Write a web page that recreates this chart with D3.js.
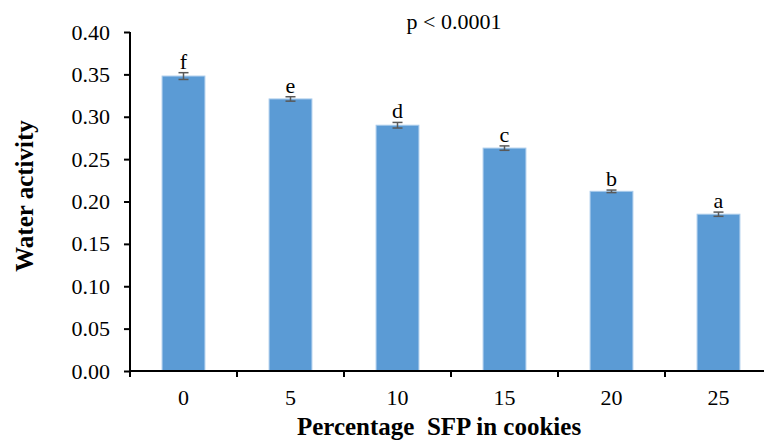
<!DOCTYPE html>
<html><head><meta charset="utf-8">
<script src="https://cdn.jsdelivr.net/npm/d3@7"></script>
<style>body{margin:0;background:#fff}svg{display:block}</style>
</head><body>
<svg id="c" width="764" height="442"></svg>
<script>
const categories = ["0","5","10","15","20","25"];
const values = [0.348, 0.321, 0.290, 0.263, 0.212, 0.185];
const errors = [0.004, 0.0026, 0.0033, 0.0026, 0.0015, 0.0025];
const letters = ["f","e","d","c","b","a"];
const yTicks = [0,0.05,0.10,0.15,0.20,0.25,0.30,0.35,0.40];

const svg = d3.select("#c");
const font = "'Liberation Serif','Times New Roman',serif";
const x0 = 130, bandW = 107;
const x = d3.scaleBand().domain(categories).range([x0, x0 + bandW*6]).paddingInner(0.6).paddingOuter(0.3);
const y = d3.scaleLinear().domain([0,0.40]).range([371,32]);

// bars
svg.selectAll("rect.bar").data(values).join("rect")
  .attr("x",(d,i)=>x(categories[i])).attr("y",d=>y(d))
  .attr("width",x.bandwidth()).attr("height",d=>y(0)-y(d))
  .attr("fill","#5B9BD5").attr("stroke","#A9CBEB").attr("stroke-width",1);

// error bars
const eb = svg.append("g").attr("stroke","#595959").attr("stroke-width",1.5);
values.forEach((v,i)=>{
  const cx = x(categories[i]) + x.bandwidth()/2;
  const t = y(v+errors[i]), b = y(v-errors[i]);
  eb.append("line").attr("x1",cx).attr("x2",cx).attr("y1",t).attr("y2",b);
  eb.append("line").attr("x1",cx-5).attr("x2",cx+5).attr("y1",t).attr("y2",t);
  eb.append("line").attr("x1",cx-5).attr("x2",cx+5).attr("y1",b).attr("y2",b);
});

// letters
svg.selectAll("text.let").data(values).join("text")
  .attr("x",(d,i)=>x(categories[i])+x.bandwidth()/2)
  .attr("y",(d,i)=>y(d+errors[i])-4)
  .attr("text-anchor","middle").attr("font-family",font).attr("font-size",22)
  .text((d,i)=>letters[i]);

// y axis
const ya = svg.append("g").attr("transform",`translate(${x0},0)`)
  .call(d3.axisLeft(y).tickValues(yTicks).tickFormat(d3.format(".2f")).tickSize(6).tickPadding(14));
ya.select(".domain").attr("stroke","#000").attr("stroke-width",2).attr("d",`M0,${y(0.40)}V${y(0)}`);
ya.selectAll(".tick line").attr("stroke","#000").attr("stroke-width",2);
ya.selectAll(".tick text").attr("font-family",font).attr("font-size",22).attr("fill","#000");

// x axis
const xa = svg.append("g").attr("transform",`translate(0,${y(0)})`);
xa.append("line").attr("x1",x0-1).attr("x2",764).attr("y1",0).attr("y2",0).attr("stroke","#000").attr("stroke-width",2);
d3.range(0,6).forEach(i=>{
  xa.append("line").attr("x1",x0+bandW*i).attr("x2",x0+bandW*i).attr("y1",0).attr("y2",6).attr("stroke","#000").attr("stroke-width",2);
});
xa.selectAll("text.xl").data(categories).join("text")
  .attr("x",d=>x(d)+x.bandwidth()/2).attr("y",34)
  .attr("text-anchor","middle").attr("font-family",font).attr("font-size",22).text(d=>d);

// titles
svg.append("text").attr("x",439).attr("y",435).attr("text-anchor","middle")
  .attr("font-family",font).attr("font-size",25).attr("font-weight","bold")
  .attr("xml:space","preserve").style("white-space","pre").text("Percentage  SFP in cookies");
svg.append("text").attr("transform","translate(33,196) rotate(-90)").attr("text-anchor","middle")
  .attr("font-family",font).attr("font-size",25).attr("font-weight","bold").text("Water activity");
svg.append("text").attr("x",454).attr("y",29).attr("text-anchor","middle")
  .attr("font-family",font).attr("font-size",22).text("p < 0.0001");
</script>
</body></html>
